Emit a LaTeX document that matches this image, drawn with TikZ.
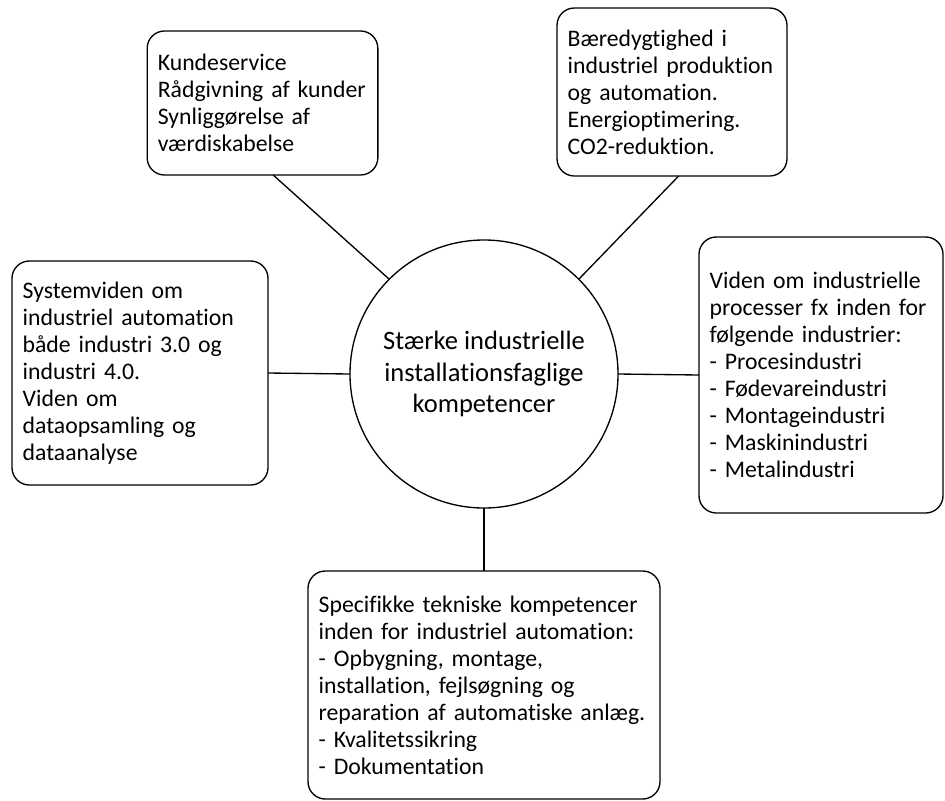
\documentclass[tikz,border=0pt]{standalone}
\usepackage{fontspec}
\setmainfont{Carlito}[Ligatures=NoCommon]
\usetikzlibrary{positioning}
\tikzstyle{link}=[draw=black,line width=1pt]
\tikzstyle{block}=[draw=black,line width=1.0pt]
\def\boxfont{\fontsize{17.8pt}{20.25pt}\selectfont}
\def\hubfont{\fontsize{19.9pt}{23.5pt}\selectfont}
\tikzstyle{bubble}=[style=block, rounded corners=13pt,
    inner xsep=8pt, inner ysep=0pt, outer sep=0pt,
    font=\boxfont, align=left]
\tikzstyle{hub}=[style=block, circle, minimum size=201pt,
    inner sep=0pt, outer sep=0pt, font=\hubfont, align=center]

\begin{document}
\begin{tikzpicture}[x=0.75pt,y=-0.75pt]
    \useasboundingbox (0,0) rectangle (945,800);
    % centre and the five fields around it
    \node[hub] (centre) at (484,374) {Stærke industrielle\\installationsfaglige\\kompetencer};
    \node[bubble, text width=157pt, minimum height=108pt] (kunde) at (262.5,103)
        {Kundeservice\\Rådgivning af kunder\\Synliggørelse af\\værdiskabelse};
    \node[bubble, text width=156.5pt, minimum height=126pt] (baere) at (672,92)
        {Bæredygtighed i\\industriel produktion\\og automation.\\Energioptimering.\\CO2-reduktion.};
    \node[bubble, text width=176pt, minimum height=168pt] (system) at (140,373)
        {Systemviden om\\industriel automation\\både industri 3.0 og\\industri 4.0.\\Viden om\\dataopsamling og\\dataanalyse};
    \node[bubble, text width=167pt, minimum height=207pt] (viden) at (821,375)
        {Viden om industrielle\\processer fx inden for\\følgende industrier:\\- Procesindustri\\- Fødevareindustri\\- Montageindustri\\- Maskinindustri\\- Metalindustri};
    \node[bubble, text width=248pt, minimum height=171pt] (spec) at (484,685)
        {Specifikke tekniske kompetencer\\inden for industriel automation:\\- Opbygning, montage,\\installation, fejlsøgning og\\reparation af automatiske anlæg.\\- Kvalitetssikring\\- Dokumentation};
    % connectors
    \draw[link] ([xshift=8pt]kunde.south) -- (centre.135);
    \draw[link] ([xshift=5pt]baere.south) -- (centre.45);
    \draw[link] (system.east) -- (centre.west);
    \draw[link] (centre.east) -- (viden.west);
    \draw[link] (centre.south) -- (spec.north);
\end{tikzpicture}
\end{document}
